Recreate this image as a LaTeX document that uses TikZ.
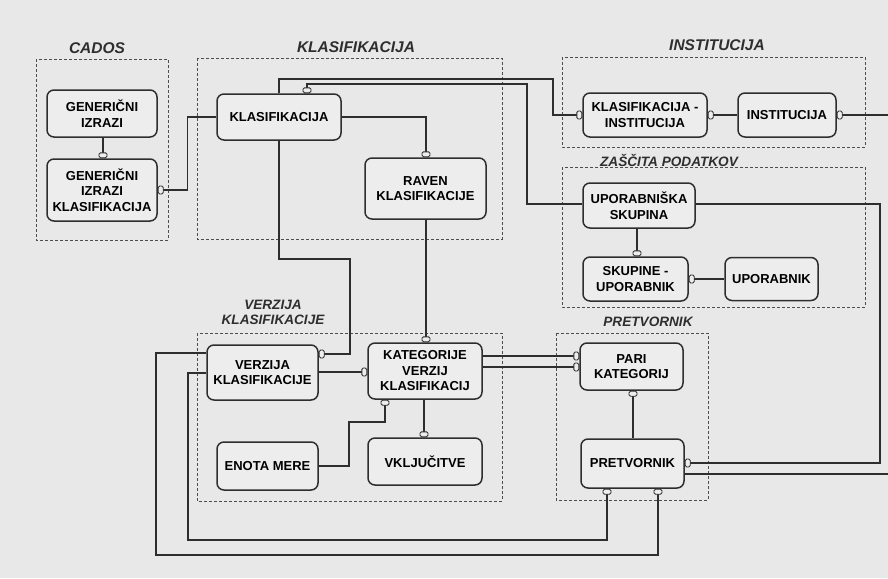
\documentclass[tikz,border=0pt]{standalone}
\usepackage{fontspec}
\setmainfont{Liberation Sans}
\definecolor{ink}{HTML}{2E2E2E}
\definecolor{pagebg}{HTML}{E8E8E8}
\definecolor{nodebg}{HTML}{EDEDED}
\tikzset{
  ent/.style 2 args={draw=ink, line width=1.5pt, rounded corners=7pt, fill=nodebg,
    align=center, inner sep=0pt, minimum width=#1, minimum height=#2,
    font=\fontsize{13}{15.5}\selectfont\bfseries},
  grp/.style={draw=ink!85, line width=0.9pt, dash pattern=on 3pt off 2pt},
  ttlA/.style={font=\fontsize{15.5}{16}\selectfont\bfseries\itshape, text=ink, inner sep=0pt},
  ttlB/.style={font=\fontsize{13.6}{15}\selectfont\bfseries\itshape, text=ink, inner sep=0pt, align=center},
  conn/.style={draw=ink, line width=1.2pt},
  symv/.style={draw=ink, line width=0.9pt, fill=nodebg, rounded corners=1.5pt,
    minimum width=8pt, minimum height=5pt, inner sep=0pt},
  symh/.style={draw=ink, line width=0.9pt, fill=nodebg, rounded corners=1.5pt,
    minimum width=5pt, minimum height=8pt, inner sep=0pt},
}
\begin{document}
\begin{tikzpicture}[x=1pt,y=-1pt]
\useasboundingbox (0,0) rectangle (888,578);
\fill[pagebg] (0,0) rectangle (888,578);

% group frames
\draw[grp] (36,59) rectangle (168,240);
\draw[grp] (197,58) rectangle (502,239);
\draw[grp] (562,57) rectangle (865,147);
\draw[grp] (562,167) rectangle (865,307);
\draw[grp] (197,333) rectangle (502,501);
\draw[grp] (556,333) rectangle (708,500);

% group titles
\node[ttlA] (tCados) at (97,48) {CADOS};
\node[ttlA] (tKlas) at (356,47) {KLASIFIKACIJA};
\node[ttlA] (tInst) at (717,45) {INSTITUCIJA};
\node[ttlB, fill=pagebg] (tZasc) at (669,160) {ZAŠČITA PODATKOV};
\node[ttlB] (tVerz) at (273,312) {VERZIJA\\KLASIFIKACIJE};
\node[ttlB] (tPret) at (648,322) {PRETVORNIK};

% entities
\node[ent={110}{47}] (gi) at (102,113.5) {GENERIČNI\\IZRAZI};
\node[ent={110}{62}] (gik) at (102,190) {GENERIČNI\\IZRAZI\\KLASIFIKACIJA};
\node[ent={124}{46}] (kl) at (279,117) {KLASIFIKACIJA};
\node[ent={121}{61}] (rk) at (425.5,188.5) {RAVEN\\KLASIFIKACIJE};
\node[ent={124}{44}] (ki) at (645,115) {KLASIFIKACIJA -\\INSTITUCIJA};
\node[ent={98}{44}] (in) at (787,115) {INSTITUCIJA};
\node[ent={112}{45}] (us) at (639,205.5) {UPORABNIŠKA\\SKUPINA};
\node[ent={105}{44}] (su) at (635.5,279) {SKUPINE -\\UPORABNIK};
\node[ent={93}{43}] (up) at (771.5,279) {UPORABNIK};
\node[ent={111}{55}] (vk) at (262.5,372.5) {VERZIJA\\KLASIFIKACIJE};
\node[ent={114}{56}] (kv) at (425,371) {KATEGORIJE\\VERZIJ\\KLASIFIKACIJ};
\node[ent={101}{48}] (em) at (267.5,466) {ENOTA MERE};
\node[ent={114}{47}] (vj) at (425,461.5) {VKLJUČITVE};
\node[ent={103}{47}] (pk) at (631.5,366.5) {PARI\\KATEGORIJ};
\node[ent={103}{49}] (pr) at (632.5,463.5) {PRETVORNIK};

\coordinate (eA) at (888,115);
\coordinate (eB) at (888,474);

% connectors
\draw[conn] (gi.south -| 103,0) -- (gik.north -| 103,0);
\draw[conn] (gik.east |- 0,190) -- ++(30,0) |- (kl.west);
\draw[conn] (kl.east) -| (rk.north -| 426,0);
\draw[conn] (kl.north -| 279,0) |- (553,79) |- (ki.west);
\draw[conn] (kl.north -| 307,0) |- (527,84) |- (us.west |- 0,204);
\draw[conn] (kl.south -| 279,0) |- (350,259) |- (vk.east |- 0,354);
\draw[conn] (rk.south -| 426,0) -- (kv.north -| 426,0);
\draw[conn] (vk.east |- 0,372) -- (kv.west |- 0,372);
\draw[conn] (em.east) -| (349,422) -| (kv.south -| 385,0);
\draw[conn] (kv.south -| 424,0) -- (vj.north -| 424,0);
\draw[conn] (kv.east |- 0,356) -- (pk.west |- 0,356);
\draw[conn] (kv.east |- 0,367) -- (pk.west |- 0,367);
\draw[conn] (pk.south -| 633,0) -- (pr.north -| 633,0);
\draw[conn] (us.east |- 0,204) -| (880,463) -- (pr.east |- 0,463);
\draw[conn] (pr.east |- 0,474) -- (eB);
\draw[conn] (pr.south -| 607,0) |- (188,540) |- (vk.west |- 0,373);
\draw[conn] (pr.south -| 658,0) |- (156,555) |- (vk.west |- 0,353);
\draw[conn] (ki.east) -- (in.west);
\draw[conn] (in.east) -- (eA);
\draw[conn] (us.south -| 637,0) -- (su.north -| 637,0);
\draw[conn] (su.east) -- (up.west |- su.east);

% relationship end marks
\node[symv, anchor=south] (m1) at (gik.north -| 103,0) {};
\node[symh, anchor=west] (m2) at (gik.east |- 0,190) {};
\node[symv, anchor=south] (m3) at (rk.north -| 426,0) {};
\node[symh, anchor=east] (m4) at (ki.west) {};
\node[symv, anchor=south] (m5) at (kl.north -| 307,0) {};
\node[symh, anchor=west] (m6) at (vk.east |- 0,354) {};
\node[symv, anchor=south] (m7) at (kv.north -| 426,0) {};
\node[symh, anchor=east] (m8) at (kv.west |- 0,372) {};
\node[symv, anchor=north] (m9) at (kv.south -| 385,0) {};
\node[symv, anchor=south] (m10) at (vj.north -| 424,0) {};
\node[symh, anchor=east] (m11) at (pk.west |- 0,356) {};
\node[symh, anchor=east] (m12) at (pk.west |- 0,367) {};
\node[symv, anchor=north] (m13) at (pk.south -| 633,0) {};
\node[symh, anchor=west] (m14) at (pr.east |- 0,463) {};
\node[symv, anchor=north] (m15) at (pr.south -| 607,0) {};
\node[symv, anchor=north] (m16) at (pr.south -| 658,0) {};
\node[symh, anchor=west] (m17) at (ki.east) {};
\node[symh, anchor=west] (m18) at (in.east) {};
\node[symv, anchor=south] (m19) at (su.north -| 637,0) {};
\node[symh, anchor=west] (m20) at (su.east) {};
\end{tikzpicture}
\end{document}
